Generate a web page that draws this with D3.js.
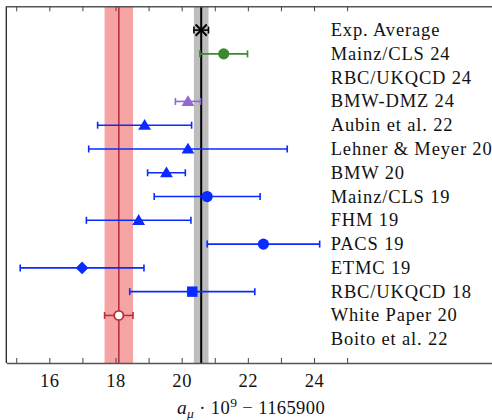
<!DOCTYPE html>
<html><head><meta charset="utf-8">
<script src="https://cdn.jsdelivr.net/npm/d3@7"></script>
<style>body{margin:0;background:#fff}svg{display:block}</style>
</head><body><svg id="c" width="492" height="420"></svg>
<script>
// data
const labels = ["Exp. Average","Mainz/CLS 24","RBC/UKQCD 24","BMW-DMZ 24","Aubin et al. 22","Lehner & Meyer 20","BMW 20","Mainz/CLS 19","FHM 19","PACS 19","ETMC 19","RBC/UKQCD 18","White Paper 20","Boito et al. 22"];
const values = [20.59, 21.27, null, 20.19, 18.88, 20.19, 19.54, 20.77, 18.70, 22.47, 16.99, 20.32, 18.10, null];
const errors = [0.22, 0.72, null, 0.38, 1.42, 3.00, 0.57, 1.60, 1.58, 1.70, 1.87, 1.89, 0.43, null];
const markers = ["x","circle","none","triangle","triangle","triangle","triangle","circle","triangle","circle","diamond","square","open","none"];
const groups = ["exp","mainz24","none","bmwdmz","lat","lat","lat","lat","lat","lat","lat","lat","wp","none"];
const xTicks = [16,18,20,22,24];
const minorTicks = [15,16,17,18,19,20,21,22,23,24,25];
const expBand = {center:20.59, err:0.22};
const wpBand = {center:18.10, err:0.43};

const colors = {exp:"#000000", mainz24:"#3b8a2e", bmwdmz:"#9366d8", lat:"#0a2aff", wp:"#b8303c"};

const svg = d3.select("#c");
const L=6.3, T=6.3, B=363, R=520;
const x = d3.scaleLinear().domain([14.7, 14.7+(R-L)/33.09]).range([L,R]);
const y = d3.scaleLinear().domain([-1,14]).range([T,B]);
const FONT = "'Liberation Serif',serif";

// bands
svg.append("rect").attr("x",x(wpBand.center-wpBand.err)).attr("y",T)
  .attr("width",x(wpBand.center+wpBand.err)-x(wpBand.center-wpBand.err)).attr("height",B-T)
  .attr("fill","#f07878").attr("opacity",0.68);
svg.append("line").attr("x1",x(wpBand.center)).attr("x2",x(wpBand.center)).attr("y1",T).attr("y2",B)
  .attr("stroke","#b8303c").attr("stroke-width",1.6);
svg.append("rect").attr("x",x(expBand.center-expBand.err)).attr("y",T)
  .attr("width",x(expBand.center+expBand.err)-x(expBand.center-expBand.err)).attr("height",B-T)
  .attr("fill","#bdbdbd");
svg.append("line").attr("x1",x(expBand.center)).attr("x2",x(expBand.center)).attr("y1",T).attr("y2",B)
  .attr("stroke","#000").attr("stroke-width",2);

// axes
const axB = d3.axisBottom(x).tickValues(minorTicks).tickSizeInner(-5).tickSizeOuter(0)
  .tickFormat(d=> xTicks.includes(d)? d : "");
const gB = svg.append("g").attr("transform",`translate(0,${B})`).call(axB);
gB.attr("font-family",FONT);
gB.select(".domain").attr("stroke","#555").attr("stroke-width",1.4);
gB.selectAll(".tick line").attr("stroke","#444").attr("stroke-width",1);
gB.selectAll(".tick text").attr("font-family",FONT).attr("font-size",18.5)
  .attr("letter-spacing",0.6).attr("fill","#111").attr("dy",0).attr("y",24);
const axT = d3.axisTop(x).tickValues(minorTicks).tickSizeInner(-5).tickSizeOuter(0).tickFormat("");
const gT = svg.append("g").attr("transform",`translate(0,${T})`).call(axT);
gT.select(".domain").attr("stroke","#555").attr("stroke-width",1.4);
gT.selectAll(".tick line").attr("stroke","#444").attr("stroke-width",1);
svg.append("line").attr("x1",L).attr("x2",L).attr("y1",T).attr("y2",B).attr("stroke","#222").attr("stroke-width",1.3);

// data rows
const rows = labels.map((l,i)=>({l, v:values[i], e:errors[i], m:markers[i], c:colors[groups[i]]||"#000", i}));
const pts = svg.append("g");
rows.filter(d=>d.v!=null).forEach(d=>{
  const g = pts.append("g");
  const yy = y(d.i);
  const x0 = x(d.v-d.e), x1 = x(d.v+d.e), xc = x(d.v);
  const sw = 1.6;
  g.append("line").attr("x1",x0).attr("x2",x1).attr("y1",yy).attr("y2",yy).attr("stroke",d.c).attr("stroke-width",sw);
  [x0,x1].forEach(xx=>g.append("line").attr("x1",xx).attr("x2",xx).attr("y1",yy-3.5).attr("y2",yy+3.5).attr("stroke",d.c).attr("stroke-width",sw));
  if(d.m==="circle") g.append("circle").attr("cx",xc).attr("cy",yy).attr("r",5.6).attr("fill",d.c);
  else if(d.m==="open") g.append("circle").attr("cx",xc).attr("cy",yy).attr("r",4.6).attr("fill","#fff").attr("stroke",d.c).attr("stroke-width",1.8);
  else if(d.m==="triangle") g.append("path").attr("d",`M${xc},${yy-6.2}L${xc+6.4},${yy+4.6}L${xc-6.4},${yy+4.6}Z`).attr("fill",d.c);
  else if(d.m==="diamond") g.append("path").attr("d",`M${xc},${yy-6.3}L${xc+6.3},${yy}L${xc},${yy+6.3}L${xc-6.3},${yy}Z`).attr("fill",d.c);
  else if(d.m==="square") g.append("rect").attr("x",xc-5.2).attr("y",yy-5.2).attr("width",10.4).attr("height",10.4).attr("fill",d.c);
  else if(d.m==="x"){
    const s=5.6;
    g.append("path").attr("d",`M${xc-s},${yy-s}L${xc+s},${yy+s}M${xc-s},${yy+s}L${xc+s},${yy-s}`).attr("stroke",d.c).attr("stroke-width",2);
  }
});

// labels
svg.append("g").selectAll("text").data(rows).join("text")
  .attr("x",330.7).attr("y",d=>y(d.i)+6)
  .attr("font-family",FONT).attr("font-size",18.5).attr("letter-spacing",0.85).attr("fill","#111")
  .text(d=>d.l);

// axis title
const t = svg.append("text").attr("x",251).attr("y",414).attr("text-anchor","middle")
  .attr("font-family",FONT).attr("font-size",18.5).attr("letter-spacing",0.4).attr("fill","#111");
t.append("tspan").attr("font-style","italic").attr("font-size",19.5).text("a");
t.append("tspan").attr("font-style","italic").attr("font-size",13.5).attr("dy",4).text("μ");
t.append("tspan").attr("dy",-4).text(" · 10");
t.append("tspan").attr("font-size",13.5).attr("dy",-7).text("9");
t.append("tspan").attr("dy",7).text(" − 1165900");
</script></body></html>
